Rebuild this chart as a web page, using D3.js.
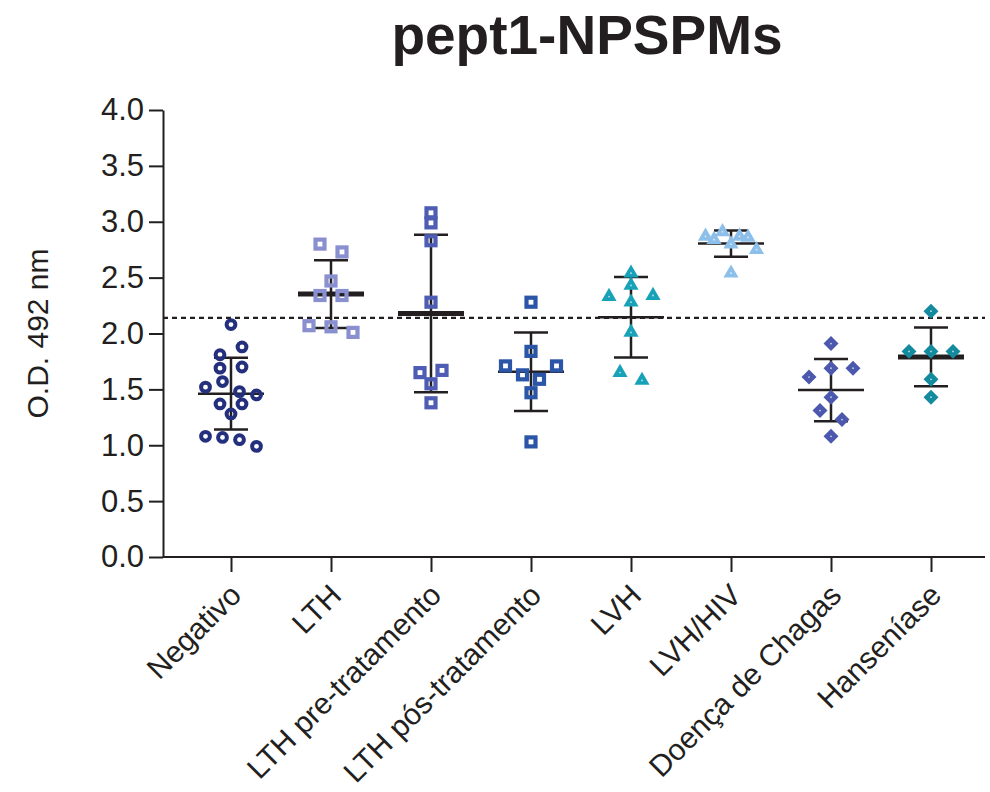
<!DOCTYPE html>
<html>
<head>
<meta charset="utf-8">
<script src="https://cdn.jsdelivr.net/npm/d3@7"></script>
<style>
  body { margin: 0; background: #fff; }
  svg { font-family: "Liberation Sans", Arial, Helvetica, sans-serif; }
</style>
</head>
<body>
<div id="chart"></div>
<script>
// values, one array per group
const categories = ['Negativo', 'LTH', 'LTH pre-tratamento', 'LTH pós-tratamento',
  'LVH', 'LVH/HIV', 'Doença de Chagas', 'Hanseníase']
const negativo = [2.08, 1.81, 1.88, 1.69, 1.70, 1.52, 1.57, 1.48, 1.45, 1.28, 1.37, 1.37, 1.08, 1.07, 1.05, 0.99]
const lth = [2.80, 2.73, 2.47, 2.34, 2.34, 2.07, 2.06, 2.01]
const lthPre = [3.08, 2.99, 2.83, 2.28, 1.65, 1.67, 1.55, 1.38]
const lthPos = [2.28, 1.84, 1.71, 1.63, 1.59, 1.71, 1.47, 1.03]
const lvh = [2.54, 2.43, 2.33, 2.28, 2.34, 2.01, 1.65, 1.58]
const lvhHiv = [2.87, 2.84, 2.91, 2.80, 2.87, 2.86, 2.75, 2.54]
const chagas = [1.91, 1.61, 1.69, 1.69, 1.43, 1.31, 1.23, 1.08]
const hansen = [2.20, 1.84, 1.84, 1.84, 1.59, 1.43]
const groupValues = [negativo, lth, lthPre, lthPos, lvh, lvhHiv, chagas, hansen]
const yTicks = [0, 0.5, 1.0, 1.5, 2.0, 2.5, 3.0, 3.5, 4.0]
const cutoff = 2.14
const title = 'pept1-NPSPMs'
const yLabel = 'O.D. 492 nm'

const groupColors = ['#24307d', '#8a8fcf', '#4e5db3', '#2b55a7', '#17a2b8', '#8cbfe9', '#4b58ad', '#138a9e']
const groupShapes = ['circle', 'square', 'square', 'square', 'triangle', 'triangle', 'diamond', 'diamond']
const thickMean = ['LTH', 'LTH pre-tratamento', 'Hanseníase']
const ink = '#231f20'

const width = 990
const height = 792
const plotLeft = 163
const plotRight = 985
const plotTop = 110
const plotBottom = 557

const svg = d3.select('#chart').append('svg')
  .attr('width', width)
  .attr('height', height)

const x = d3.scalePoint().domain(categories).range([231, 931])
const y = d3.scaleLinear().domain([0, 4]).range([plotBottom, plotTop])

// spread points that sit at nearly the same height into a row
function swarmOffsets(values) {
  const order = d3.range(values.length)
    .sort((a, b) => d3.descending(values[a], values[b]) || a - b)
  const rows = []
  let row = null
  order.forEach(i => {
    const py = y(values[i])
    if (row && py - row.last < 9.8 && py - row.first < 19) {
      row.idx.push(i)
      row.last = py
    } else {
      row = { first: py, last: py, idx: [i] }
      rows.push(row)
    }
  })
  const off = new Array(values.length).fill(0)
  rows.forEach(r => {
    const n = r.idx.length
    if (n < 2) return
    const step = Math.min(22, 51 / (n - 1))
    r.idx.sort((a, b) => a - b).forEach((i, k) => {
      off[i] = (k - (n - 1) / 2) * step
    })
  })
  return off
}

// title
svg.append('text')
  .attr('x', 587)
  .attr('y', 54)
  .attr('text-anchor', 'middle')
  .attr('font-size', 55)
  .attr('font-weight', 'bold')
  .attr('fill', ink)
  .text(title)

// y axis
const yAxis = svg.append('g')
  .attr('transform', `translate(${plotLeft},0)`)
  .call(d3.axisLeft(y).tickValues(yTicks).tickFormat(d3.format('.1f'))
    .tickSize(14).tickSizeOuter(0).tickPadding(5))
yAxis.select('.domain').attr('stroke', ink).attr('stroke-width', 2)
yAxis.selectAll('.tick line').attr('stroke', ink).attr('stroke-width', 2)
yAxis.selectAll('.tick text')
  .attr('font-size', 31)
  .attr('font-family', '"Liberation Sans", Arial, sans-serif')
  .attr('fill', ink)

svg.append('text')
  .attr('transform', `translate(48,${(plotTop + plotBottom) / 2}) rotate(-90)`)
  .attr('text-anchor', 'middle')
  .attr('font-size', 30)
  .attr('fill', ink)
  .text(yLabel)

// x axis
svg.append('line')
  .attr('x1', plotLeft).attr('x2', plotRight)
  .attr('y1', plotBottom).attr('y2', plotBottom)
  .attr('stroke', ink).attr('stroke-width', 2)
const xAxis = svg.append('g')
  .attr('transform', `translate(0,${plotBottom})`)
  .call(d3.axisBottom(x).tickSize(15).tickSizeOuter(0))
xAxis.select('.domain').remove()
xAxis.selectAll('.tick line').attr('stroke', ink).attr('stroke-width', 2)
xAxis.selectAll('.tick text').remove()

svg.append('g')
  .selectAll('text')
  .data(categories)
  .join('text')
  .attr('transform', d => `translate(${x(d) - 3},582) rotate(-45)`)
  .attr('text-anchor', 'end')
  .attr('dy', '0.71em')
  .attr('font-size', 30)
  .attr('fill', ink)
  .text(d => d)

// cutoff
svg.append('line')
  .attr('x1', plotLeft).attr('x2', plotRight)
  .attr('y1', y(cutoff)).attr('y2', y(cutoff))
  .attr('stroke', ink)
  .attr('stroke-width', 2.2)
  .attr('stroke-dasharray', '5,4')

// mean and SD
const stats = categories.map((c, i) => {
  const vals = groupValues[i]
  return { cat: c, mean: d3.mean(vals), sd: d3.deviation(vals) }
})

const bars = svg.append('g')
  .selectAll('g')
  .data(stats)
  .join('g')
  .attr('stroke', ink)
bars.append('line')
  .attr('x1', d => x(d.cat)).attr('x2', d => x(d.cat))
  .attr('y1', d => y(d.mean + d.sd)).attr('y2', d => y(d.mean - d.sd))
  .attr('stroke-width', 2.5)
bars.append('line')
  .attr('x1', d => x(d.cat) - 17).attr('x2', d => x(d.cat) + 17)
  .attr('y1', d => y(d.mean + d.sd)).attr('y2', d => y(d.mean + d.sd))
  .attr('stroke-width', 2.5)
bars.append('line')
  .attr('x1', d => x(d.cat) - 17).attr('x2', d => x(d.cat) + 17)
  .attr('y1', d => y(d.mean - d.sd)).attr('y2', d => y(d.mean - d.sd))
  .attr('stroke-width', 2.5)
bars.append('line')
  .attr('x1', d => x(d.cat) - 33).attr('x2', d => x(d.cat) + 33)
  .attr('y1', d => y(d.mean)).attr('y2', d => y(d.mean))
  .attr('stroke-width', d => thickMean.includes(d.cat) ? 5 : 2.5)

// points
const triangle = d3.symbol(d3.symbolTriangle, 100)()
const diamond = d3.symbol(d3.symbolSquare, 112)()

categories.forEach((c, gi) => {
  const vals = groupValues[gi]
  const offs = swarmOffsets(vals)
  const color = groupColors[gi]
  const shape = groupShapes[gi]
  const pts = svg.append('g')
    .selectAll('g')
    .data(vals.map((v, i) => ({ v, dx: offs[i] })))
    .join('g')
    .attr('transform', d => `translate(${x(c) + d.dx},${y(d.v)})`)

  if (shape === 'circle') {
    pts.append('circle').attr('r', 4.4)
      .attr('fill', 'none').attr('stroke', color).attr('stroke-width', 4)
  } else if (shape === 'square') {
    pts.append('rect').attr('x', -4.5).attr('y', -4.5).attr('width', 9).attr('height', 9)
      .attr('fill', 'none').attr('stroke', color).attr('stroke-width', 4.2)
  } else {
    pts.append('path')
      .attr('d', shape === 'triangle' ? triangle : diamond)
      .attr('transform', shape === 'diamond' ? 'rotate(45)' : null)
      .attr('fill', color)
    pts.append('circle').attr('r', 0.9).attr('fill', '#fff').attr('opacity', 0.7)
  }
})
</script>
</body>
</html>
